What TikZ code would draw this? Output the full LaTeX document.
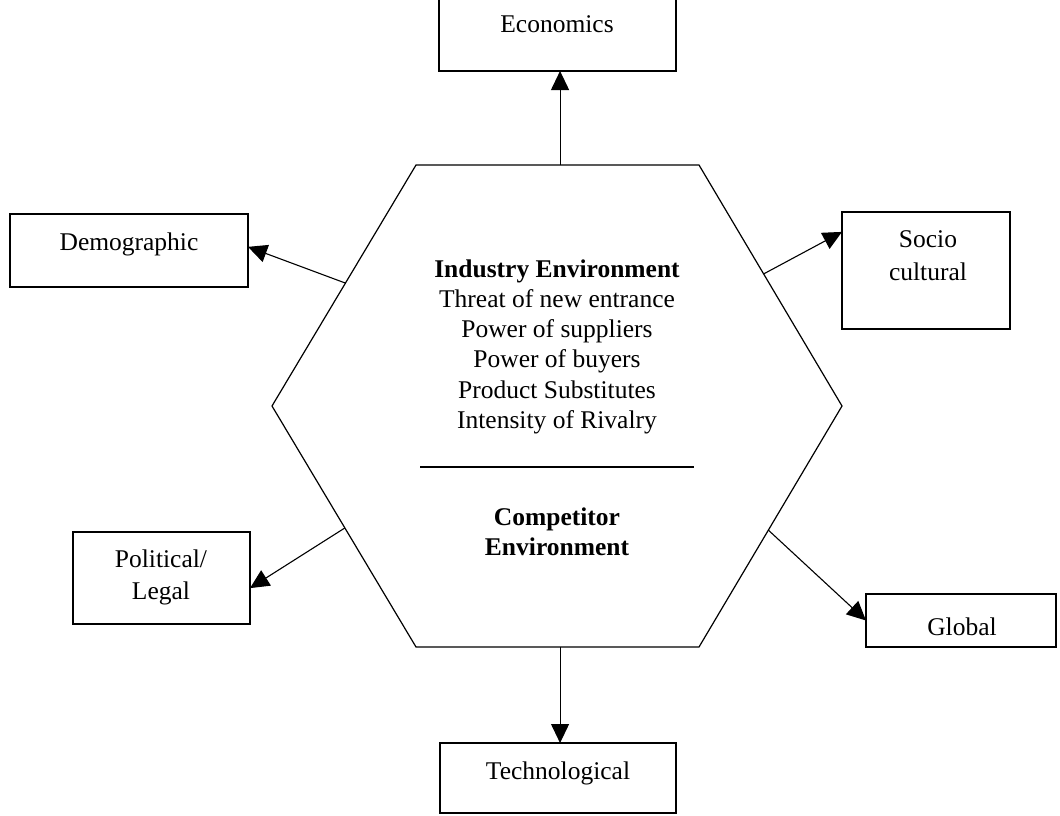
\documentclass[tikz,border=0pt]{standalone}
\usepackage{fontspec}
\setmainfont{Liberation Serif}
\usetikzlibrary{arrows.meta,calc}
\begin{document}
\begin{tikzpicture}[x=1pt,y=-1pt,
  frame/.style={draw, line width=1.1pt, inner sep=0pt, outer sep=0pt},
  lbl/.style={font=\fontsize{25.5}{30}\selectfont, inner sep=0pt, anchor=base},
  hd/.style={font=\fontsize{25.5}{30}\selectfont\bfseries, inner sep=0pt, anchor=base},
  link/.style={line width=1.1pt, -{Triangle[length=19pt,width=18pt]}},
  hexline/.style={line width=1.2pt, line join=miter}]
\useasboundingbox (0,0) rectangle (1060,816);
\clip (0,0) rectangle (1060,816);

% central hexagon
\coordinate (h1) at (416,165);
\coordinate (h2) at (699,165);
\coordinate (h3) at (842,406);
\coordinate (h4) at (699,647);
\coordinate (h5) at (416,647);
\coordinate (h6) at (272,406);
\draw[hexline] (h1) -- (h2) -- (h3) -- (h4) -- (h5) -- (h6) -- cycle;

% divider between the two environments
\coordinate (divL) at (420,467);
\coordinate (divR) at (694,467);
\draw[line width=1.1pt] (divL) -- (divR);

% text inside the hexagon
\node[hd]  (ind)  at (557,277) {Industry Environment};
\node[lbl] (i1)   at (557,307) {Threat of new entrance};
\node[lbl] (i2)   at (557,337) {Power of suppliers};
\node[lbl] (i3)   at (557,367) {Power of buyers};
\node[lbl] (i4)   at (557,398) {Product Substitutes};
\node[lbl] (i5)   at (557,428) {Intensity of Rivalry};
\node[hd]  (comp) at (557,525) {Competitor};
\node[hd]  (cenv) at (557,555) {Environment};

% surrounding factor boxes
\node[frame, minimum width=237pt, minimum height=80pt]  (econ)  at (557.5,31) {};
\node[frame, minimum width=238pt, minimum height=73pt]  (demo)  at (129,250.5) {};
\node[frame, minimum width=168pt, minimum height=117pt] (socio) at (926,270.5) {};
\node[frame, minimum width=177pt, minimum height=92pt]  (pol)   at (161.5,578) {};
\node[frame, minimum width=190pt, minimum height=53pt]  (glob)  at (961,620.5) {};
\node[frame, minimum width=236pt, minimum height=70pt]  (tech)  at (558,778) {};

\node[lbl] (econT)  at (557,33)  {Economics};
\node[lbl] (demoT)  at (129,250) {Demographic};
\node[lbl] (socT1)  at (928,247) {Socio};
\node[lbl] (socT2)  at (928,280) {cultural};
\node[lbl] (polT1)  at (161,567) {Political/};
\node[lbl] (polT2)  at (161,599) {Legal};
\node[lbl] (globT)  at (962,635) {Global};
\node[lbl] (techT)  at (558,779) {Technological};

% arrow start points on the hexagon outline
\coordinate (sEcon)  at ($(h1)!0.509!(h2)$);
\coordinate (sTech)  at ($(h5)!0.509!(h4)$);
\coordinate (sDemo)  at ($(h6)!0.51!(h1)$);
\coordinate (sSocio) at ($(h3)!0.548!(h2)$);
\coordinate (sPol)   at ($(h6)!0.506!(h5)$);
\coordinate (sGlob)  at ($(h3)!0.515!(h4)$);

% arrows from the hexagon to each factor
\draw[link] (sEcon)  -- (sEcon |- econ.south);
\draw[link] (sTech)  -- (sTech |- tech.north);
\draw[link] (sDemo)  -- ($(demo.north east)!0.45!(demo.south east)$);
\draw[link] (sSocio) -- ($(socio.north west)!0.17!(socio.south west)$);
\draw[link] (sPol)   -- ($(pol.north east)!0.61!(pol.south east)$);
\draw[link] (sGlob)  -- (glob.west);
\end{tikzpicture}
\end{document}
